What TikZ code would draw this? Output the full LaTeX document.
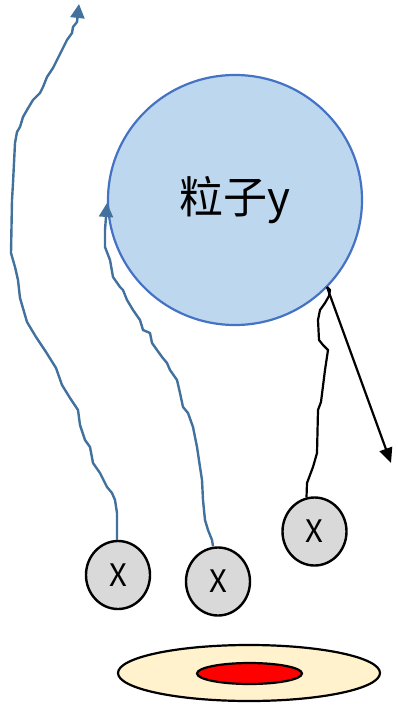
\documentclass[tikz,border=0pt]{standalone}
\usepackage{fontspec}
\newfontfamily\cjk{Noto Sans CJK SC}
\usetikzlibrary{arrows.meta}
\definecolor{ybody}{HTML}{BDD7EE}
\definecolor{yedge}{HTML}{4472C4}
\definecolor{wave}{HTML}{41719C}
\definecolor{xfill}{HTML}{D9D9D9}
\definecolor{disk}{HTML}{FFF2CC}
\tikzset{
  xball/.style={ellipse,draw=black,line width=2.4pt,fill=xfill,minimum width=64pt,minimum height=68pt,inner sep=0pt,font=\cjk\fontsize{31}{31}\selectfont},
  bluewave/.style={draw=wave,line width=2.4pt,line join=round,-{Triangle[length=14pt,width=14pt]}},
  blackwave/.style={draw=black,line width=2.2pt,line join=round},
  ray/.style={draw=black,line width=2.2pt,-{Triangle[length=15pt,width=13pt]}}
}
\usetikzlibrary{shapes.geometric}
\begin{document}
\begin{tikzpicture}[x=1pt,y=-1pt]
\useasboundingbox (0,0) rectangle (398,708);
% big particle
\node[ellipse,draw=yedge,line width=2.2pt,fill=ybody,minimum width=254pt,minimum height=250pt,inner sep=0pt,font=\cjk\fontsize{44}{44}\selectfont] (y) at (235,200) {粒子y};
% disk
\node[ellipse,draw=black,line width=2.2pt,fill=disk,minimum width=262pt,minimum height=56pt,inner sep=0pt] (disk) at (249,673) {};
\node[ellipse,draw=black,line width=2.2pt,fill=red,minimum width=105pt,minimum height=21pt,inner sep=0pt] (core) at (249.5,673.5) {};
% X particles
\node[xball] (x1) at (118,575) {X};
\node[xball] (x2) at (218,581.5) {X};
\node[xball] (x3) at (314.5,531.5) {X};
% free ends
\coordinate (t1) at (79,4);
\coordinate (t2) at (107,203);
\coordinate (k) at (327,287);
\coordinate (t3) at (391,463);
% left long wave
\draw[bluewave] (x1.north) ++(-1,0) -- (117,513) -- (115,500) -- (112,493) -- (107,487) -- (100,473) -- (93,463) -- (90,447)
 -- (85,440) -- (80,425) -- (78,410) -- (70,398) -- (62,385) -- (56,368) -- (46,352) -- (36,337) -- (27,322) -- (20,298)
 -- (18,280) -- (15,267) -- (11,253) -- (12,200) -- (13,183) -- (15,143) -- (17,132) -- (20,127) -- (23,117) -- (27,110)
 -- (33,100) -- (40,93) -- (43,87) -- (47,77) -- (53,68) -- (58,58) -- (62,50) -- (67,40) -- (72,33) -- (73,27) -- (77,22) -- (t1);
% middle wave
\draw[bluewave] (x2.north) ++(-5,0) -- (212,540) -- (208,530) -- (205,520) -- (203,500) -- (202,480) -- (200,467) -- (197,447)
 -- (193,427) -- (188,413) -- (183,407) -- (180,393) -- (177,380) -- (170,370) -- (167,363) -- (162,357) -- (157,350)
 -- (152,343) -- (150,333) -- (143,330) -- (140,320) -- (133,310) -- (127,300) -- (123,290) -- (120,287) -- (113,277)
 -- (110,260) -- (105,247) -- (105,230) -- (106,217) -- (t2);
% black wave into y
\draw[blackwave] (x3.north) ++(-8,1) -- (307,483) -- (313,467) -- (317,453) -- (318,410) -- (321,402) -- (325,370) -- (328,350)
 -- (323,345) -- (319,340) -- (318,320) -- (320,310) -- (325,303) -- (329,296) -- (330,290) -- (k);
% outgoing ray
\draw[ray] (k) -- (t3);
\end{tikzpicture}
\end{document}
